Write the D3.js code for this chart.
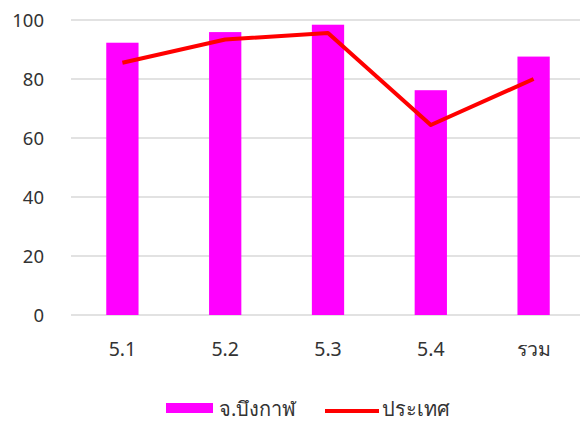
<!DOCTYPE html>
<html><head><meta charset="utf-8">
<script src="https://cdn.jsdelivr.net/npm/d3@7"></script>
<style>body{margin:0;background:#fff}svg{display:block}text{font-family:"Noto Sans","DejaVu Sans",sans-serif}</style>
</head><body>
<script>
const categories = ["5.1","5.2","5.3","5.4","รวม"];
const provinceValues = [92.3, 95.9, 98.4, 76.2, 87.6];
const countryValues = [85.5, 93.4, 95.6, 64.4, 80.0];
const yTicks = [0,20,40,60,80,100];
const seriesNames = ["จ.บึงกาฬ","ประเทศ"];

const W = 580, H = 423;
const svg = d3.select("body").append("svg").attr("width", W).attr("height", H);

const x = d3.scaleBand().domain(categories).range([71, 585]).paddingInner(0.686).paddingOuter(0.343);
const y = d3.scaleLinear().domain([0,100]).range([315, 20]);

// gridlines
svg.append("g").selectAll("line").data(yTicks).join("line")
  .attr("x1", 71).attr("x2", W)
  .attr("y1", d => y(d)).attr("y2", d => y(d))
  .attr("stroke", "#d9d9d9").attr("stroke-width", 1.3);

// y axis labels
const yAxis = d3.axisLeft(y).tickValues(yTicks).tickSize(0).tickPadding(0);
const ya = svg.append("g").attr("transform", "translate(44,0)").call(yAxis);
ya.select(".domain").remove();
ya.selectAll("text").attr("font-size", 18.5).attr("fill", "#333333").attr("dy", "0.35em")
  .style("font-family", "'Noto Sans','DejaVu Sans',sans-serif");

// x axis labels
const xAxis = d3.axisBottom(x).tickSize(0).tickPadding(0);
const xa = svg.append("g").attr("transform", "translate(0,342)").call(xAxis);
xa.select(".domain").remove();
xa.selectAll("text").attr("font-size", 19.5).attr("fill", "#333333").attr("dy", "0.72em")
  .style("font-family", "'Noto Sans','DejaVu Sans',sans-serif");

// bars
svg.append("g").selectAll("rect").data(categories).join("rect")
  .attr("x", d => x(d)).attr("width", x.bandwidth())
  .attr("y", (d,i) => y(provinceValues[i]))
  .attr("height", (d,i) => y(0) - y(provinceValues[i]))
  .attr("fill", "#ff00ff");

// line
const line = d3.line().x((d,i) => x(categories[i]) + x.bandwidth()/2).y(d => y(d));
svg.append("path").datum(countryValues).attr("d", line)
  .attr("fill", "none").attr("stroke", "#ff0000").attr("stroke-width", 4)
  .attr("stroke-linejoin", "round");

// legend
const lg = svg.append("g");
lg.append("rect").attr("x", 166).attr("y", 403).attr("width", 47).attr("height", 10).attr("fill", "#ff00ff");
lg.append("text").attr("x", 219).attr("y", 409).attr("dy", "0.35em").attr("font-size", 20).attr("fill", "#333333").text(seriesNames[0]);
lg.append("line").attr("x1", 325).attr("x2", 379).attr("y1", 411).attr("y2", 411).attr("stroke", "#ff0000").attr("stroke-width", 4);
lg.append("text").attr("x", 382).attr("y", 409).attr("dy", "0.35em").attr("font-size", 20).attr("fill", "#333333").text(seriesNames[1]);
</script>
</body></html>
